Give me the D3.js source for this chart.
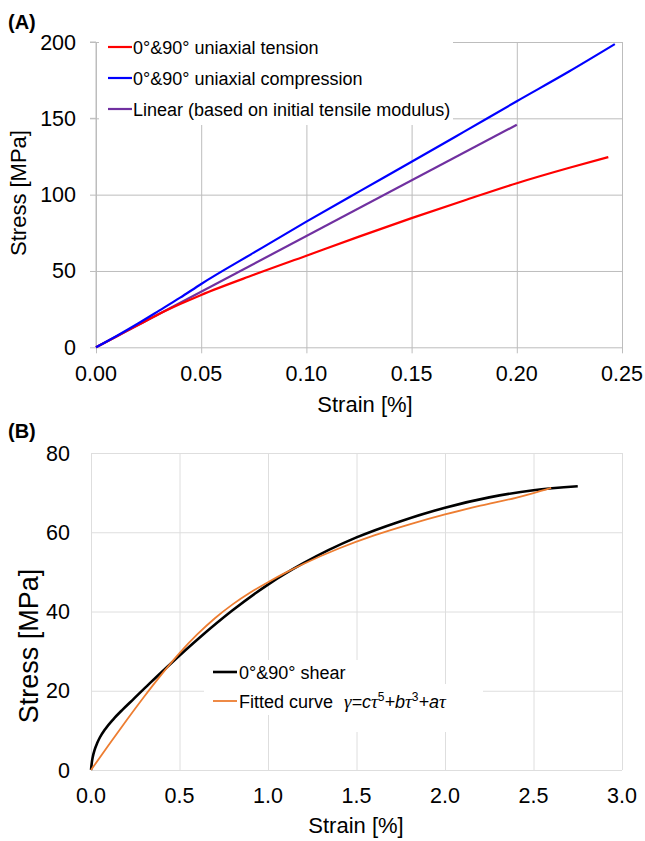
<!DOCTYPE html>
<html><head><meta charset="utf-8">
<script src="https://cdn.jsdelivr.net/npm/d3@7"></script>
<style>body{margin:0;background:#fff}svg{display:block;font-family:"Liberation Sans",Arial,sans-serif}</style>
</head><body><svg id="c" width="645" height="841"></svg>
<script>
// Panel A data: strain [%], stress [MPa]
const tensionStrain = [0,0.01,0.02,0.03,0.04,0.05,0.075,0.10,0.125,0.15,0.175,0.20,0.225,0.2435];
const tensionStress = [0,7.3,14.6,21.8,28.3,34.3,47.5,60,72.5,84.6,96.2,107.5,117.6,124.6];
const compStrain = [0,0.01,0.02,0.03,0.04,0.05,0.075,0.10,0.125,0.15,0.175,0.20,0.225,0.2466];
const compStress = [0,7.6,15.6,24,32.5,41.5,62,82.3,102,121.5,141.3,161.2,180.8,198.6];
const linearStrain = [0,0.20];
const linearStress = [0,145.8];
const aXTicks = [0,0.05,0.10,0.15,0.20,0.25];
const aYTicks = [0,50,100,150,200];
const aLegend = ["0°&90° uniaxial tension","0°&90° uniaxial compression","Linear (based on initial tensile modulus)"];
// Panel B data
const shearStrain = [0,0.005,0.01,0.02,0.035,0.05,0.08,0.126,0.18,0.24,0.33,0.43,0.616,0.8,1.0,1.2,1.5,1.75,2.0,2.25,2.5,2.75];
const shearStress = [0,2,3.3,5,6.8,8.2,10.3,12.8,15.3,17.9,21.8,26,33.5,40.3,46.8,52.2,58.7,62.8,66.2,68.8,70.6,71.6];
const fitStrain = [0,0.1,0.2,0.3,0.4,0.5,0.6,0.7,0.8,0.9,1.0,1.1,1.2,1.4,1.6,1.8,2.0,2.2,2.4,2.5,2.6];
const fitStress = [0,6.3,12.5,18.5,24.2,29.5,34.2,38.3,41.8,44.8,47.4,49.8,52,55.9,59.2,62,64.5,66.7,68.7,69.9,71.2];
const bXTicks = [0,0.5,1.0,1.5,2.0,2.5,3.0];
const bYTicks = [0,20,40,60,80];
const bLegend = ["0°&90° shear","Fitted curve"];

const svg = d3.select("#c");
const zip = (xs, ys) => xs.map((x,i)=>[x, ys[i]]);

// ---------- Panel A ----------
const xA = d3.scaleLinear().domain([0,0.25]).range([96,622]);
const yA = d3.scaleLinear().domain([0,200]).range([347.3,42]);
const gA = svg.append("g");
const gridA = "#bdbdbd";
gA.append("g").attr("transform","translate(0,347.3)")
  .call(d3.axisBottom(xA).tickValues(aXTicks).tickSize(-(347.3-42)).tickSizeOuter(0).tickFormat(""))
  .call(g=>g.select(".domain").remove())
  .call(g=>g.selectAll("line").attr("stroke",gridA).attr("y1",6));
gA.append("g").attr("transform","translate(96,0)")
  .call(d3.axisLeft(yA).tickValues(aYTicks).tickSize(-(622-96)).tickSizeOuter(0).tickFormat(""))
  .call(g=>g.select(".domain").remove())
  .call(g=>g.selectAll("line").attr("stroke",gridA).attr("x1",-6));
gA.append("rect").attr("x",99).attr("y",28).attr("width",354).attr("height",97).attr("fill","#fff");
gA.append("line").attr("x1",96).attr("x2",96).attr("y1",yA(200)).attr("y2",yA(0)).attr("stroke",gridA);
gA.append("line").attr("x1",90).attr("x2",96).attr("y1",yA(200)).attr("y2",yA(200)).attr("stroke",gridA);
gA.append("line").attr("x1",90).attr("x2",96).attr("y1",yA(150)).attr("y2",yA(150)).attr("stroke",gridA);
gA.append("g").selectAll("text").data(aXTicks).join("text")
  .attr("x",d=>xA(d)).attr("y",381).attr("text-anchor","middle").attr("font-size",21.5)
  .text(d=>d3.format(".2f")(d));
gA.append("g").selectAll("text").data(aYTicks).join("text")
  .attr("x",76).attr("y",d=>yA(d)+7.5).attr("text-anchor","end").attr("font-size",21.5)
  .text(d=>d);
gA.append("text").attr("x",365).attr("y",412).attr("text-anchor","middle").attr("font-size",22).text("Strain [%]");
gA.append("text").attr("transform","translate(26,193) rotate(-90)").attr("text-anchor","middle").attr("font-size",22).text("Stress [MPa]");
gA.append("text").attr("x",8).attr("y",29).attr("font-size",20).attr("font-weight","bold").text("(A)");
const lineA = d3.line().x(d=>xA(d[0])).y(d=>yA(d[1])).curve(d3.curveMonotoneX);
const seriesA = [
  {d:zip(tensionStrain,tensionStress), c:"#ff0000"},
  {d:zip(compStrain,compStress), c:"#0000ff"},
  {d:zip(linearStrain,linearStress), c:"#7030a0"}
];
[seriesA[2],seriesA[0],seriesA[1]].forEach(s=>{
  gA.append("path").attr("d",lineA(s.d)).attr("fill","none").attr("stroke",s.c).attr("stroke-width",2.2);
});
aLegend.forEach((t,i)=>{
  const y = 47 + i*31;
  gA.append("line").attr("x1",108).attr("x2",132).attr("y1",y).attr("y2",y).attr("stroke",seriesA[i].c).attr("stroke-width",2.2);
  gA.append("text").attr("x",133).attr("y",y+6.5).attr("font-size",18).text(t);
});

// ---------- Panel B ----------
const xB = d3.scaleLinear().domain([0,3]).range([91,622]);
const yB = d3.scaleLinear().domain([0,80]).range([770,453]);
const gB = svg.append("g");
const gridB = "#dedede";
gB.append("g").attr("transform","translate(0,770)")
  .call(d3.axisBottom(xB).tickValues(bXTicks).tickSize(-(770-453)).tickSizeOuter(0).tickFormat(""))
  .call(g=>g.select(".domain").remove())
  .call(g=>g.selectAll("line").attr("stroke",gridB));
gB.append("g").attr("transform","translate(91,0)")
  .call(d3.axisLeft(yB).tickValues(bYTicks).tickSize(-(622-91)).tickSizeOuter(0).tickFormat(""))
  .call(g=>g.select(".domain").remove())
  .call(g=>g.selectAll("line").attr("stroke",gridB));
gB.append("rect").attr("x",204).attr("y",660).attr("width",170).attr("height",55).attr("fill","#fff");
gB.append("rect").attr("x",340).attr("y",684).attr("width",143).attr("height",48).attr("fill","#fff");
gB.append("g").selectAll("text").data(bXTicks).join("text")
  .attr("x",d=>xB(d)).attr("y",803).attr("text-anchor","middle").attr("font-size",21.5)
  .text(d=>d3.format(".1f")(d));
gB.append("g").selectAll("text").data(bYTicks).join("text")
  .attr("x",70).attr("y",d=>yB(d)+7.5).attr("text-anchor","end").attr("font-size",21.5)
  .text(d=>d);
gB.append("text").attr("x",356).attr("y",833).attr("text-anchor","middle").attr("font-size",22).text("Strain [%]");
gB.append("text").attr("transform","translate(38,646) rotate(-90)").attr("text-anchor","middle").attr("font-size",27).text("Stress [MPa]");
gB.append("text").attr("x",8).attr("y",438).attr("font-size",20).attr("font-weight","bold").text("(B)");
const lineB = d3.line().x(d=>xB(d[0])).y(d=>yB(d[1])).curve(d3.curveMonotoneX);
gB.append("path").attr("d",lineB(zip(shearStrain,shearStress))).attr("fill","none").attr("stroke","#000").attr("stroke-width",2.6);
gB.append("path").attr("d",lineB(zip(fitStrain,fitStress))).attr("fill","none").attr("stroke","#ed7d31").attr("stroke-width",1.8);
const bCols = ["#000","#ed7d31"], bW=[2.6,1.8];
bLegend.forEach((t,i)=>{
  const y = 672 + i*29;
  gB.append("line").attr("x1",213).attr("x2",237).attr("y1",y).attr("y2",y).attr("stroke",bCols[i]).attr("stroke-width",bW[i]);
  gB.append("text").attr("x",239).attr("y",y+6.5).attr("font-size",18).text(t);
});
const f = gB.append("text").attr("x",344).attr("y",707.5).attr("font-size",18).attr("font-style","italic");
const parts = [["γ","serif"],["=","sans"],["c","sans"],["τ","serif"],["5","sup"],["+","sans"],["b","sans"],["τ","serif"],["3","sup"],["+","sans"],["a","sans"],["τ","serif"]];
let prevSup=false;
parts.forEach(p=>{
  const ts = f.append("tspan").text(p[0]);
  if(p[1]==="serif") ts.attr("font-family","'Liberation Serif','Times New Roman',serif").attr("font-size",19);
  if(p[1]==="sup"){ ts.attr("font-size",12).attr("dy",-7).attr("font-style","normal"); prevSup=true; }
  else if(prevSup){ ts.attr("dy",7); prevSup=false; }
});
</script></body></html>
